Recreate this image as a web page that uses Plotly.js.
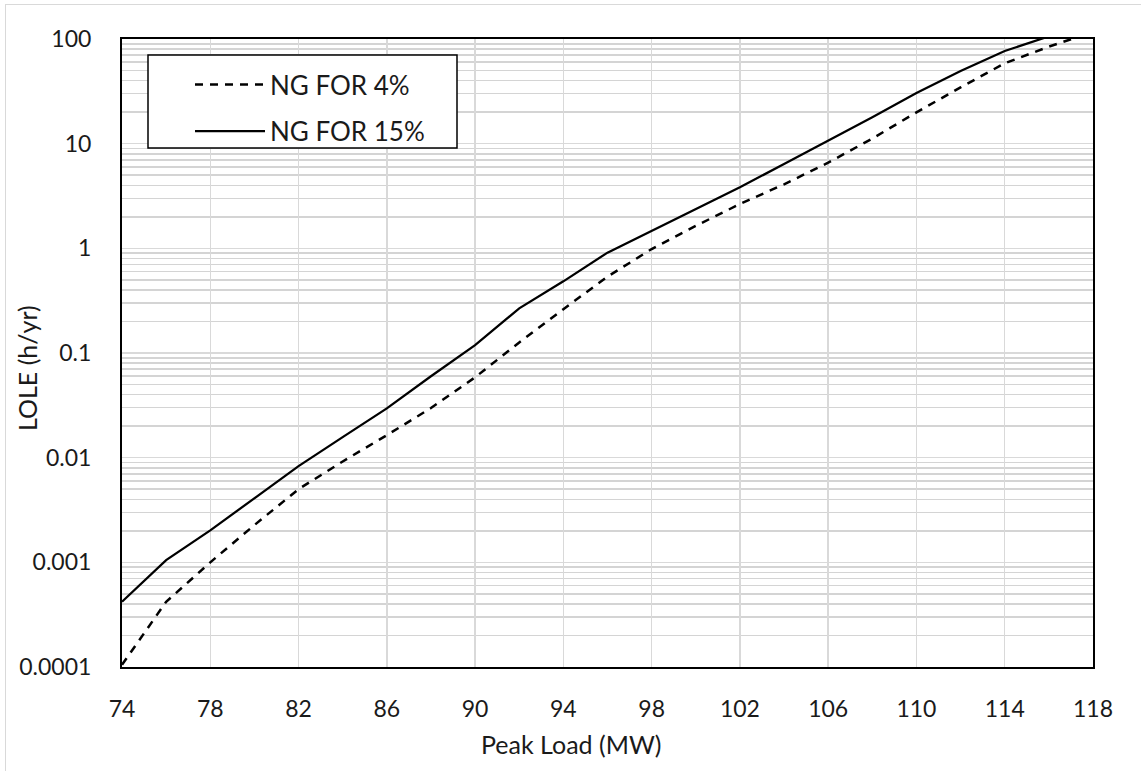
<!DOCTYPE html>
<html>
<head>
<meta charset="utf-8">
<script src="https://cdn.plot.ly/plotly-3.0.1.min.js"></script>
<style>
  html, body { margin: 0; padding: 0; background: #ffffff; }
  #frame { position: absolute; left: 5px; top: 4px; width: 1200px; height: 800px; border: 1px solid #d9d9d9; }
  #chart { position: absolute; left: 0; top: 0; width: 1141px; height: 771px; }
</style>
</head>
<body>
<div id="frame"></div>
<div id="chart"></div>
<script>
// Peak load (MW)
const peakLoad = [74, 76, 78, 80, 82, 84, 86, 88, 90, 92, 94, 96, 98, 100, 102, 104, 106, 108, 110, 112, 114, 116, 118];
// LOLE (h/yr), NG FOR 4%
const lole4 = [0.000105, 0.00042, 0.001, 0.00227, 0.0050, 0.0092, 0.0164, 0.0298, 0.0586, 0.126, 0.262, 0.536, 0.985, 1.64, 2.65, 4.09, 6.58, 11.2, 19.9, 34.5, 58.6, 84.5, 117];
// LOLE (h/yr), NG FOR 15%
const lole15 = [0.00042, 0.00105, 0.00202, 0.0041, 0.0083, 0.0157, 0.0296, 0.06, 0.119, 0.267, 0.484, 0.91, 1.47, 2.39, 3.83, 6.4, 10.7, 17.9, 30.5, 49.5, 76.8, 106, 140];

const seriesNames = ['NG FOR 4%', 'NG FOR 15%'];
const xTitle = 'Peak Load (MW)';
const yTitle = 'LOLE (h/yr)';

const FONT = 'Lato, "Open Sans", sans-serif';
const TXT = '#1a1a1a';

// plot area in pixels: x 122..1093, y 39..667
const PL = 122, PR = 1093, PT = 39, PB = 667;
const px = v => (v - PL) / (PR - PL);
const py = v => (PB - v) / (PB - PT);

const traces = [
  { x: peakLoad, y: lole4, name: seriesNames[0], type: 'scatter', mode: 'lines',
    legendgroup: 'a',
    line: { color: '#000000', width: 2.5, dash: '8px,7px' } },
  { x: peakLoad, y: lole15, name: seriesNames[1], type: 'scatter', mode: 'lines',
    legendgroup: 'b',
    line: { color: '#000000', width: 2.25 } }
];

const layout = {
  width: 1141, height: 771,
  margin: { l: PL, r: 1141 - PR, t: PT, b: 771 - PB },
  paper_bgcolor: 'rgba(0,0,0,0)',
  plot_bgcolor: '#ffffff',
  font: { family: FONT, size: 23, color: TXT },
  showlegend: true,
  legend: {
    x: px(190), y: py(61), xanchor: 'left', yanchor: 'top',
    bgcolor: 'rgba(0,0,0,0)', borderwidth: 0,
    font: { family: FONT, size: 26, color: TXT },
    itemwidth: 70,
    tracegroupgap: 10
  },
  shapes: [
    { type: 'rect', xref: 'paper', yref: 'paper', layer: 'above',
      x0: px(148), x1: px(457), y0: py(148), y1: py(55),
      fillcolor: '#ffffff', line: { color: '#000000', width: 1.5 } }
  ],
  xaxis: {
    range: [74, 118], tickmode: 'linear', tick0: 74, dtick: 4,
    showgrid: true, gridcolor: '#d9d9d9', gridwidth: 1.5,
    showline: true, mirror: true, linecolor: '#000000', linewidth: 2,
    zeroline: false, ticks: '', ticklabelstandoff: 20,
    tickfont: { family: FONT, size: 23, color: TXT }
  },
  yaxis: {
    type: 'log', range: [-4, 2], tickmode: 'linear', dtick: 1,
    tickformat: '.4~f',
    showgrid: true, gridcolor: '#d9d9d9', gridwidth: 1.5,
    minor: { dtick: 'D1', showgrid: true, gridcolor: '#d4d4d4', gridwidth: 1.5, ticks: '' },
    showline: true, mirror: true, linecolor: '#000000', linewidth: 2,
    zeroline: false, ticks: '', ticklabelstandoff: 24,
    tickfont: { family: FONT, size: 23, color: TXT }
  },
  annotations: [
    { text: xTitle, xref: 'paper', yref: 'paper', x: px(571), y: py(744),
      xanchor: 'center', yanchor: 'middle', showarrow: false,
      font: { family: FONT, size: 25, color: TXT } },
    { text: yTitle, xref: 'paper', yref: 'paper', x: px(27), y: py(368),
      xanchor: 'center', yanchor: 'middle', showarrow: false, textangle: -90,
      font: { family: FONT, size: 25, color: TXT } }
  ]
};

Plotly.newPlot('chart', traces, layout, { displayModeBar: false, staticPlot: true });
</script>
</body>
</html>
